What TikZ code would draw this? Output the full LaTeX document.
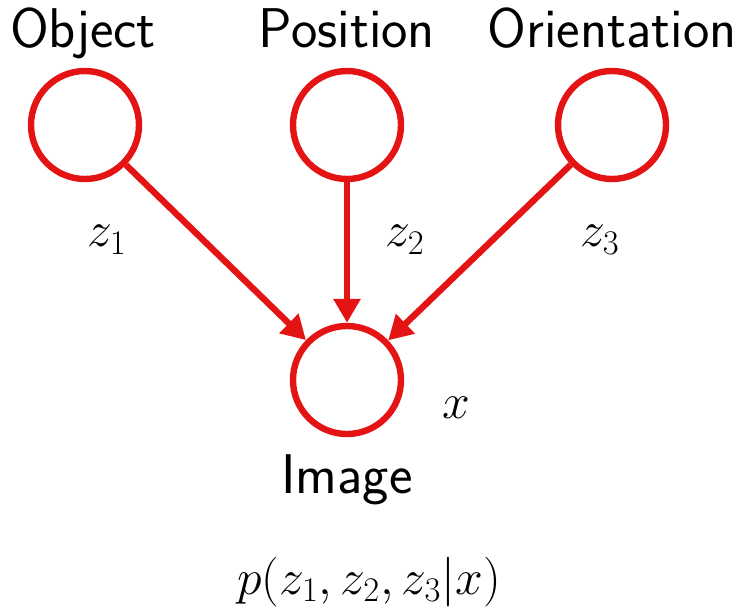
\documentclass[tikz,border=0pt]{standalone}
\usepackage{amsmath}
\usepackage{tikz}
\usetikzlibrary{arrows.meta,positioning}
\definecolor{nodered}{RGB}{228,20,20}

\begin{document}
\begin{tikzpicture}[x=0.5pt, y=-0.5pt,
  latent/.style={circle, draw=nodered, line width=3.2pt, minimum size=54pt, inner sep=0pt},
  title/.style={font=\fontsize{28}{32}\sffamily, anchor=base},
  varname/.style={font=\fontsize{25}{29}\selectfont},
  link/.style={-{Triangle[length=12pt,width=13pt]}, draw=nodered, line width=3.2pt}]
  \useasboundingbox (0,0) rectangle (742,615);

  % variables latentes
  \node[latent] (obj) at (85,125) {};
  \node[latent] (pos) at (347,125) {};
  \node[latent] (ori) at (612,125) {};
  % observacion
  \node[latent] (img) at (347,380) {};

  \node[title] (tobj) at (83,48) {Object};
  \node[title] (tpos) at (347,48) {Position};
  \node[title] (tori) at (612,48) {Orientation};
  \node[title] (timg) at (347,493) {Image};

  \node[varname] (z1) at (107,240) {$z_1$};
  \node[varname] (z2) at (405,240) {$z_2$};
  \node[varname] (z3) at (600,240) {$z_3$};
  \node[varname] (x) at (456,408) {$x$};

  \node[varname] (post) at (369,582) {$p(z_1,z_2,z_3|x)$};

  % aristas
  \draw[link] (obj) -- (img);
  \draw[link] (pos) -- (img);
  \draw[link] (ori) -- (img);
\end{tikzpicture}
\end{document}
